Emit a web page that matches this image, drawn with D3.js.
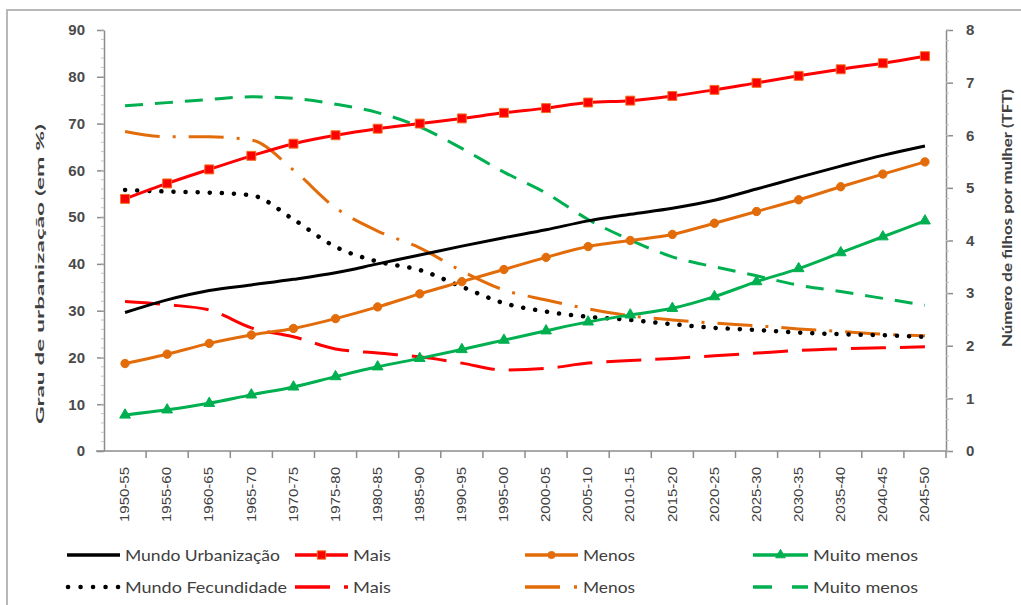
<!DOCTYPE html>
<html>
<head>
<meta charset="utf-8">
<script src="https://cdn.jsdelivr.net/npm/d3@7"></script>
<style>
  body { margin: 0; background: #fff; }
  svg { display: block; font-family: Lato, "Open Sans", sans-serif; }
</style>
</head>
<body>
<svg id="chart"></svg>
<script>
// periods on the x axis
var periods = ["1950-55","1955-60","1960-65","1965-70","1970-75","1975-80","1980-85","1985-90","1990-95","1995-00",
               "2000-05","2005-10","2010-15","2015-20","2020-25","2025-30","2030-35","2035-40","2040-45","2045-50"];

// urbanização (left axis, %)
var mundoUrb      = [29.6, 32.3, 34.3, 35.5, 36.7, 38.1, 40.0, 41.9, 43.8, 45.6, 47.3, 49.2, 50.6, 51.9, 53.6, 56.0, 58.5, 60.9, 63.2, 65.2];
var maisUrb       = [53.9, 57.2, 60.2, 63.1, 65.7, 67.5, 68.9, 70.0, 71.1, 72.3, 73.3, 74.5, 74.9, 75.9, 77.2, 78.7, 80.2, 81.6, 82.9, 84.4];
var menosUrb      = [18.7, 20.7, 23.0, 24.8, 26.2, 28.3, 30.8, 33.6, 36.2, 38.8, 41.4, 43.7, 45.0, 46.3, 48.7, 51.2, 53.7, 56.5, 59.2, 61.8];
var muitoMenosUrb = [7.7, 8.8, 10.2, 12.0, 13.7, 15.9, 18.0, 19.8, 21.7, 23.7, 25.7, 27.6, 29.1, 30.5, 33.0, 36.2, 39.0, 42.4, 45.8, 49.2];

// fecundidade (right axis, TFT)
var mundoFec      = [4.96, 4.93, 4.91, 4.86, 4.40, 3.88, 3.60, 3.44, 3.12, 2.81, 2.65, 2.55, 2.49, 2.41, 2.34, 2.30, 2.25, 2.22, 2.20, 2.17];
var maisFec       = [2.84, 2.78, 2.68, 2.34, 2.17, 1.94, 1.86, 1.79, 1.67, 1.54, 1.57, 1.67, 1.72, 1.76, 1.81, 1.86, 1.91, 1.94, 1.96, 1.98];
var menosFec      = [6.07, 5.97, 5.97, 5.91, 5.34, 4.62, 4.18, 3.86, 3.42, 3.06, 2.87, 2.70, 2.57, 2.49, 2.43, 2.38, 2.32, 2.27, 2.22, 2.19];
var muitoMenosFec = [6.56, 6.62, 6.68, 6.73, 6.70, 6.59, 6.43, 6.16, 5.75, 5.30, 4.90, 4.40, 4.01, 3.69, 3.50, 3.33, 3.15, 3.03, 2.90, 2.77];

var leftTicks  = [0, 10, 20, 30, 40, 50, 60, 70, 80, 90];
var rightTicks = [0, 1, 2, 3, 4, 5, 6, 7, 8];

var leftTitle  = "Grau de urbanização  (em %)";
var rightTitle = "Número de filhos  por mulher (TFT)";

var dimensions = {
    width: 1021,
    height: 605,
    margin: { top: 30, bottom: 154, left: 104, right: 75 }
}

var svg = d3.select("#chart")
            .attr("width", dimensions.width)
            .attr("height", dimensions.height)

// outer frame of the pasted chart
svg.append("rect")
   .attr("x", 7).attr("y", 10)
   .attr("width", 1030).attr("height", 620)
   .attr("fill", "none")
   .attr("stroke", "#b8b8b8")
   .attr("stroke-width", 2)

var x0 = dimensions.margin.left
var x1 = dimensions.width - dimensions.margin.right
var yBottom = dimensions.height - dimensions.margin.bottom

var xScale = d3.scaleBand()
               .domain(periods)
               .range([x0, x1])
var xc = p => xScale(p) + xScale.bandwidth() / 2

var yLeft = d3.scaleLinear()
              .domain([0, 90])
              .range([yBottom, dimensions.margin.top])

var yRight = d3.scaleLinear()
               .domain([0, 8])
               .range([yBottom, dimensions.margin.top])

var axisColor = "#8c8c8c"
var textColor = "#404040"

// left axis
var yAxisL = svg.append("g")
                .attr("transform", `translate(${x0},0)`)
                .call(d3.axisLeft(yLeft).tickValues(leftTicks).tickSize(7).tickSizeOuter(0).tickPadding(12))
yAxisL.select(".domain").attr("stroke", axisColor).attr("stroke-width", 1.5)
yAxisL.selectAll(".tick line").attr("stroke", axisColor).attr("stroke-width", 1.5)
yAxisL.selectAll("text")
      .attr("fill", "#4a4a4a")
      .style("font-size", "15px")
      .style("font-weight", "bold")

// right axis
var yAxisR = svg.append("g")
                .attr("transform", `translate(${x1},0)`)
                .call(d3.axisRight(yRight).tickValues(rightTicks).tickSize(7).tickSizeOuter(0).tickPadding(13))
yAxisR.select(".domain").attr("stroke", axisColor).attr("stroke-width", 1.5)
yAxisR.selectAll(".tick line").attr("stroke", axisColor).attr("stroke-width", 1.5)
yAxisR.selectAll("text")
      .attr("fill", "#4a4a4a")
      .style("font-size", "15px")
      .style("font-weight", "bold")

// small minor ticks on both value axes
svg.append("g").selectAll("line")
   .data(d3.range(0, 90.01, 2))
   .enter().append("line")
   .attr("x1", x0 - 3).attr("x2", x0)
   .attr("y1", d => yLeft(d)).attr("y2", d => yLeft(d))
   .attr("stroke", "#c4c4c4")
svg.append("g").selectAll("line")
   .data(d3.range(0, 8.01, 0.2))
   .enter().append("line")
   .attr("x1", x1).attr("x2", x1 + 3)
   .attr("y1", d => yRight(d)).attr("y2", d => yRight(d))
   .attr("stroke", "#c4c4c4")

// x axis with ticks between the periods
var xAxis = svg.append("g")
               .attr("transform", `translate(0,${yBottom})`)
               .call(d3.axisBottom(xScale).tickSize(0).tickPadding(0))
xAxis.select(".domain").attr("stroke", axisColor).attr("stroke-width", 1.5)
     .attr("d", `M${x0 - 8},0H${x1}`)
xAxis.selectAll("text")
     .attr("fill", textColor)
     .style("font-size", "12px")
     .attr("text-anchor", "end")
     .attr("dy", "0.35em")
     .attr("transform", "translate(0,16) rotate(-90)")
     .attr("textLength", 55)
     .attr("lengthAdjust", "spacingAndGlyphs")

svg.append("g").selectAll("line")
   .data(periods.slice(1).concat(["end"]))
   .enter().append("line")
   .attr("x1", d => d === "end" ? x1 : xScale(d))
   .attr("x2", d => d === "end" ? x1 : xScale(d))
   .attr("y1", yBottom).attr("y2", yBottom + 7)
   .attr("stroke", axisColor).attr("stroke-width", 1.5)

// axis titles
svg.append("text")
   .attr("transform", `translate(44,274) rotate(-90)`)
   .attr("text-anchor", "middle")
   .attr("fill", textColor)
   .style("font-size", "12px")
   .style("font-weight", "bold")
   .attr("textLength", 300)
   .attr("lengthAdjust", "spacingAndGlyphs")
   .text(leftTitle)

svg.append("text")
   .attr("transform", `translate(1012,218) rotate(-90)`)
   .attr("text-anchor", "middle")
   .attr("fill", textColor)
   .style("font-size", "13px")
   .style("font-weight", "bold")
   .attr("textLength", 258)
   .attr("lengthAdjust", "spacingAndGlyphs")
   .text(rightTitle)

// series definitions
var RED = "#ff0000", ORANGE = "#e36c0a", GREEN = "#00b050", BLACK = "#000000"

var series = [
    { name: "Mundo Urbanização", values: mundoUrb, scale: yLeft, color: BLACK, dash: null, marker: null },
    { name: "Mais", values: maisUrb, scale: yLeft, color: RED, dash: null, marker: "square" },
    { name: "Menos", values: menosUrb, scale: yLeft, color: ORANGE, dash: null, marker: "circle" },
    { name: "Muito menos", values: muitoMenosUrb, scale: yLeft, color: GREEN, dash: null, marker: "triangle" },
    { name: "Mundo Fecundidade", values: mundoFec, scale: yRight, color: BLACK, dash: "0.1 12", cap: "round", width: 4.5, marker: null },
    { name: "Mais", values: maisFec, scale: yRight, color: RED, dash: "35 14", marker: null },
    { name: "Menos", values: menosFec, scale: yRight, color: ORANGE, dash: "35 13 3 13", marker: null },
    { name: "Muito menos", values: muitoMenosFec, scale: yRight, color: GREEN, dash: "18 12", marker: null }
]

var drawOrder = [7, 6, 5, 4, 3, 2, 0, 1]

var plot = svg.append("g")
drawOrder.forEach(i => {
    var s = series[i]
    var line = d3.line()
                 .x((d, j) => xc(periods[j]))
                 .y(d => s.scale(d))
                 .curve(d3.curveMonotoneX)
    plot.append("path")
        .attr("d", line(s.values))
        .attr("fill", "none")
        .attr("stroke", s.color)
        .attr("stroke-width", s.width || 3)
        .attr("stroke-linecap", s.cap || "butt")
        .attr("stroke-dasharray", s.dash)

    if (s.marker) {
        var sym = s.marker === "square" ? d3.symbolSquare : s.marker === "circle" ? d3.symbolCircle : d3.symbolTriangle
        var size = s.marker === "square" ? 80 : s.marker === "circle" ? 55 : 50
        plot.append("g").selectAll("path")
            .data(s.values)
            .enter().append("path")
            .attr("transform", (d, j) => `translate(${xc(periods[j])},${s.scale(d)})`)
            .attr("d", d3.symbol().type(sym).size(size))
            .attr("fill", s.color)
            .attr("stroke", s.marker === "square" ? "#f07020" : s.color)
            .attr("stroke-width", 1)
    }
})

// legend (4 columns x 2 rows)
var legendCols = [67, 295, 525, 753]
var legendRows = [555, 587]
var legendDash = [null, null, null, null, "0.1 12.4", "35 14", "35 14 3 14", "19 20"]
var legendTextLen = [155, 38, 52, 105, 162, 38, 52, 105]

var legend = svg.append("g")
series.forEach((s, i) => {
    var lx = legendCols[i % 4]
    var ly = legendRows[Math.floor(i / 4)]
    var lineW = i % 4 === 3 ? 55 : 53
    legend.append("line")
          .attr("x1", s.cap ? lx + 1 : lx).attr("x2", lx + lineW)
          .attr("y1", ly).attr("y2", ly)
          .attr("stroke", s.color)
          .attr("stroke-width", s.width || 3.5)
          .attr("stroke-linecap", s.cap || "butt")
          .attr("stroke-dasharray", legendDash[i])
    if (s.marker) {
        var sym = s.marker === "square" ? d3.symbolSquare : s.marker === "circle" ? d3.symbolCircle : d3.symbolTriangle
        legend.append("path")
              .attr("transform", `translate(${lx + lineW / 2},${ly})`)
              .attr("d", d3.symbol().type(sym).size(s.marker === "square" ? 70 : 40))
              .attr("fill", s.color)
              .attr("stroke", s.marker === "square" ? "#f07020" : s.color)
    }
    legend.append("text")
          .attr("x", lx + lineW + 5)
          .attr("y", ly)
          .attr("dy", "0.35em")
          .attr("fill", textColor)
          .style("font-size", "16px")
          .attr("textLength", legendTextLen[i])
          .attr("lengthAdjust", "spacingAndGlyphs")
          .text(s.name)
})
</script>
</body>
</html>
